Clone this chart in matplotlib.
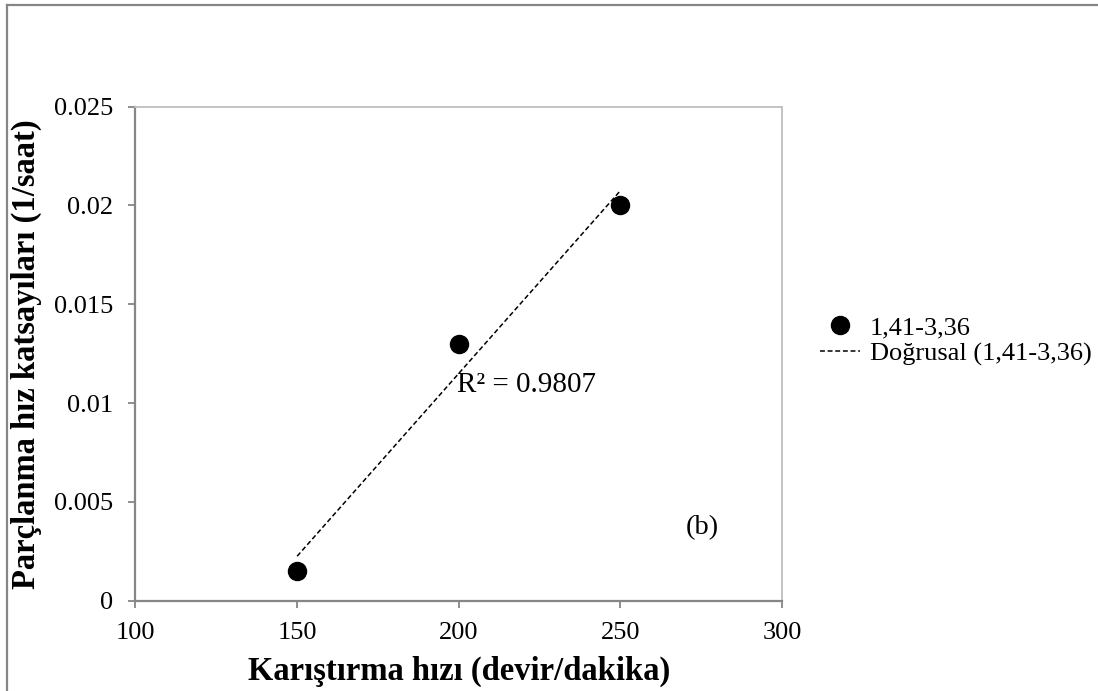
import matplotlib

matplotlib.use("Agg")

import matplotlib.pyplot as plt
import numpy as np
from matplotlib.legend_handler import HandlerLine2D
from matplotlib.lines import Line2D

# ------------------------------------------------------------------ data
speed = [150, 200, 250]                     # devir/dakika
rate = [0.0015, 0.013, 0.020]               # 1/saat
series_name = "1,41-3,36"
fit_name = "Doğrusal (1,41-3,36)"

x_ticks = [100, 150, 200, 250, 300]
y_ticks = [0, 0.005, 0.01, 0.015, 0.02, 0.025]
y_tick_labels = ["0", "0.005", "0.01", "0.015", "0.02", "0.025"]

plt.rcParams["font.family"] = ["Liberation Serif", "DejaVu Serif"]
FS = 19
LABEL_FS = 23.5
DARK = "#868686"
LIGHT = "#bfbfbf"


class LeftMarker(HandlerLine2D):
    """Excel puts the legend dot near the left end of the key, not centred."""

    def get_xdata(self, legend, xdescent, ydescent, width, height, fontsize):
        xdata = [-xdescent, -xdescent + width]
        return xdata, [-xdescent + 0.15 * width]


fig = plt.figure(figsize=(10.98, 6.91), dpi=100)
ax = fig.add_axes([0.1234, 0.1307, 0.5888, 0.7149])

# linear trend + R²
x = np.array(speed, dtype=float)
y = np.array(rate, dtype=float)
slope, intercept = np.polyfit(x, y, 1)
pred = slope * x + intercept
r2 = 1 - np.sum((y - pred) ** 2) / np.sum((y - y.mean()) ** 2)

ax.plot(x, pred, color="black", lw=1.1, ls=(0, (3.2, 1.8)), label=fit_name, zorder=2)
ax.plot(x, y, "o", color="black", ms=13, label=series_name, zorder=3)

ax.text(199.5, 0.0109, f"R² = {r2:.4f}", fontsize=21, ha="left", va="center")
ax.text(275.3, 0.00368, "(b)", fontsize=20.5, ha="center", va="center")

ax.set_xlim(100, 300)
ax.set_ylim(0, 0.025)
ax.set_xticks(x_ticks)
ax.set_yticks(y_ticks)
ax.set_yticklabels(y_tick_labels)
ax.tick_params(axis="both", direction="out", length=5, width=1.3, color=DARK,
               labelsize=FS)
ax.tick_params(axis="y", pad=11)
ax.tick_params(axis="x", pad=10)

for side in ("left", "bottom"):
    ax.spines[side].set_color(DARK)
    ax.spines[side].set_linewidth(1.6)
for side in ("top", "right"):
    ax.spines[side].set_color(LIGHT)
    ax.spines[side].set_linewidth(1.3)

ax.set_xlabel("Karıştırma hızı (devir/dakika)", fontsize=LABEL_FS, fontweight="bold",
              labelpad=9)
ax.set_ylabel("Parçlanma hız katsayıları (1/saat)", fontsize=LABEL_FS, fontweight="bold",
              labelpad=9)

handles, labels = ax.get_legend_handles_labels()
leg = fig.legend(handles[::-1], labels[::-1], loc="upper left",
                 bbox_to_anchor=(820 / 1098, 1 - 316 / 691), frameon=False,
                 fontsize=FS, handlelength=1.52, handletextpad=0.38,
                 labelspacing=0.1, borderpad=0, borderaxespad=0,
                 handler_map={Line2D: LeftMarker(numpoints=1)})

# outer chart-area border (top and left visible)
fig.add_artist(Line2D([6.5 / 1098, 6.5 / 1098], [0, 1 - 4.5 / 691],
                      transform=fig.transFigure, color=DARK, lw=1.6))
fig.add_artist(Line2D([6.5 / 1098, 1], [1 - 4.5 / 691, 1 - 4.5 / 691],
                      transform=fig.transFigure, color=DARK, lw=1.6))

fig.savefig("out.png", dpi=100, facecolor="white")
